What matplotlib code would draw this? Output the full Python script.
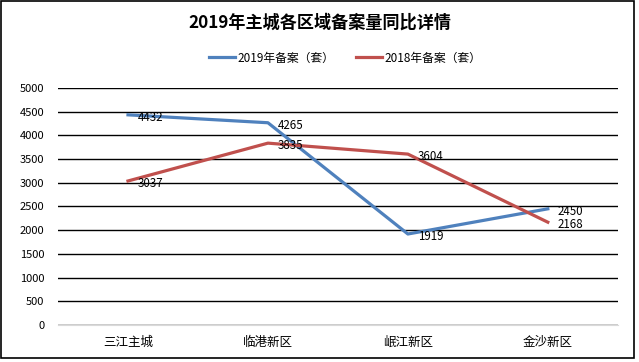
import matplotlib
matplotlib.use("Agg")
import matplotlib.pyplot as plt
from matplotlib.patches import Rectangle

plt.rcParams['font.family'] = ['Noto Sans CJK SC', 'DejaVu Sans']

# dados
regioes = ["三江主城", "临港新区", "岷江新区", "金沙新区"]
valores_2019 = [4432, 4265, 1919, 2450]
valores_2018 = [3037, 3835, 3604, 2168]
yticks = list(range(0, 5001, 500))

azul = "#4F81BD"
vermelho = "#C0504D"

fig = plt.figure(figsize=(6.39, 3.62), dpi=100)
ax = fig.add_axes([0.0908, 0.1022, 0.876, 0.655])

x = range(len(regioes))
ax.plot(x, valores_2019, color=azul, linewidth=2.3, label="2019年备案（套）")
ax.plot(x, valores_2018, color=vermelho, linewidth=2.3, label="2018年备案（套）")

# rótulos de valor
for serie in (valores_2019, valores_2018):
    for i, v in enumerate(serie):
        ax.annotate(str(v), (i, v), xytext=(7, -2), textcoords="offset points",
                    ha="left", va="center", fontsize=8.3)

ax.set_xlim(-0.5, 3.5)
ax.set_ylim(0, 5000)
ax.set_yticks(yticks)
ax.set_xticks(list(x))
ax.set_xticklabels(regioes, fontsize=9)
ax.tick_params(axis="y", labelsize=8, length=0, pad=10)
ax.tick_params(axis="x", length=0, pad=8)

ax.grid(axis="y", color="black", linewidth=1)
ax.set_axisbelow(True)
for s in ("top", "right", "left"):
    ax.spines[s].set_visible(False)
ax.spines["bottom"].set_color("#D9D9D9")
ax.spines["bottom"].set_zorder(3)

fig.text(0.5, 0.938, "2019年主城各区域备案量同比详情", ha="center", va="center",
         fontsize=12.3, fontweight="bold")
fig.legend(loc="center", bbox_to_anchor=(0.54, 0.84), ncol=2, frameon=False,
           fontsize=8.5, handlelength=2.2, columnspacing=1.8, handletextpad=0.2)

# moldura da figura
fig.patches.append(Rectangle((0.002, 0.011), 0.99, 0.985, transform=fig.transFigure,
                             fill=False, edgecolor="black", linewidth=1.2))

plt.savefig("out.png", dpi=100)
